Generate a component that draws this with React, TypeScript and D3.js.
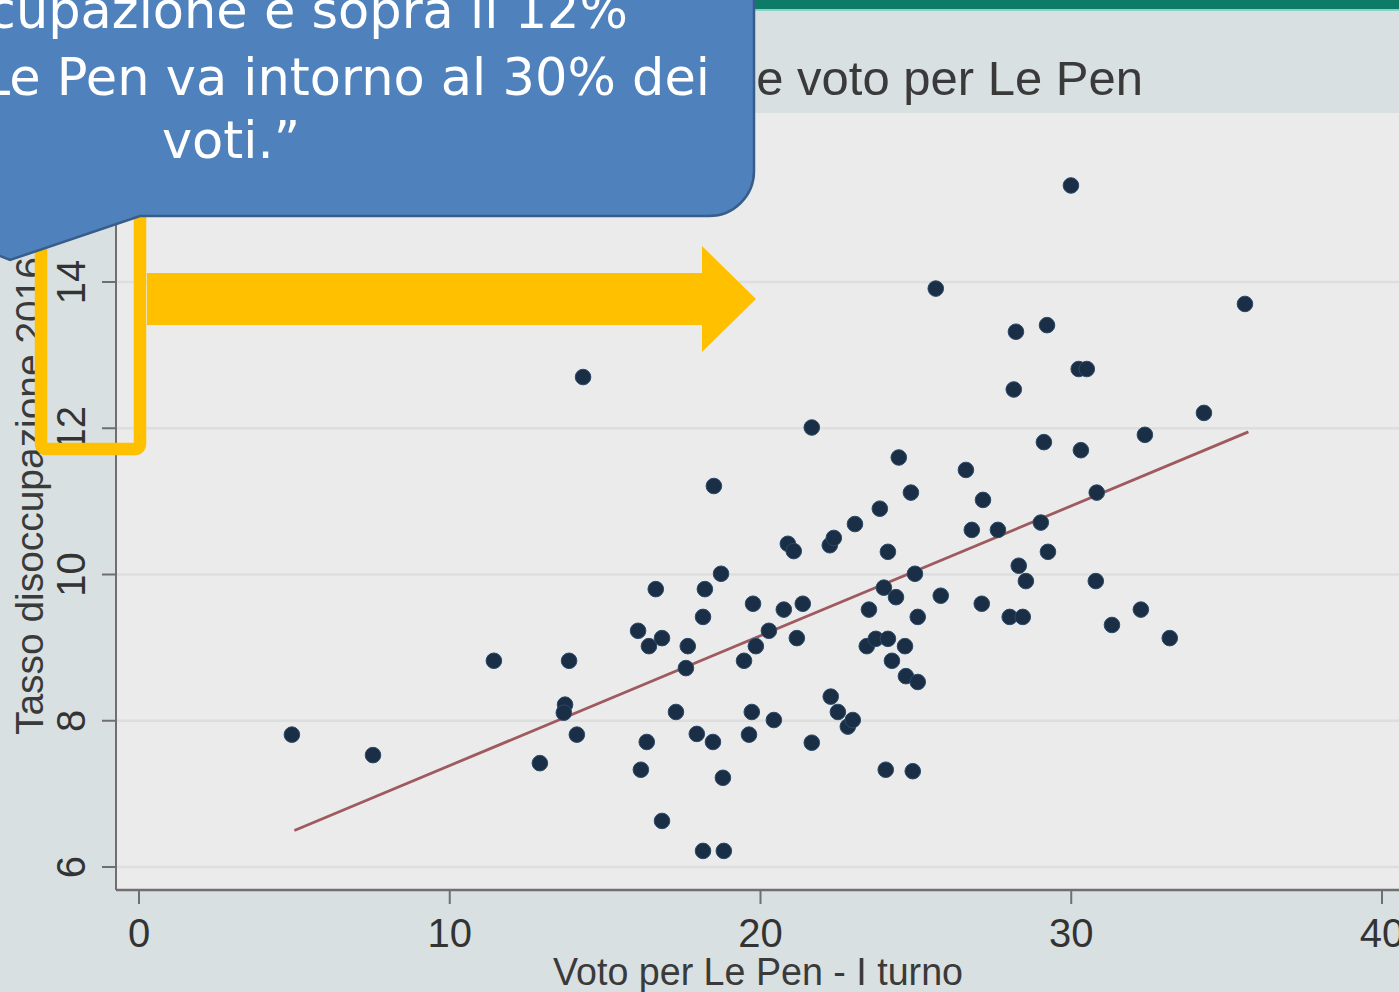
import React from "react";
import * as d3 from "d3";

// ---- data ----
const voteLePen: number[] = [
  4.92, 7.53, 11.42, 12.9, 13.71, 13.67, 13.84, 14.09, 14.29, 16.06,
  16.41, 16.63, 16.83, 16.15, 16.34, 16.83, 17.28, 17.6, 17.66, 17.95,
  18.15, 18.21, 18.47, 18.5, 18.73, 18.79, 18.15, 18.82, 19.47, 19.63,
  19.72, 19.76, 19.85, 20.27, 20.43, 20.75, 20.88, 21.07, 21.17, 21.36,
  21.65, 21.65, 22.23, 22.36, 22.26, 22.49, 22.81, 22.97, 23.04, 23.49,
  23.42, 23.71, 23.84, 23.97, 24.1, 24.1, 24.36, 24.23, 24.45, 24.03,
  24.68, 24.65, 24.9, 25.06, 24.97, 24.84, 25.06, 25.64, 25.8, 26.61,
  26.8, 27.16, 27.12, 27.64, 28.15, 28.22, 28.02, 28.44, 28.31, 28.54,
  29.02, 29.12, 29.22, 29.25, 29.99, 30.24, 30.5, 30.31, 30.82, 30.79,
  31.31, 32.24, 32.37, 33.17, 34.27, 35.59,
];
const unemployment2016: number[] = [
  7.81, 7.53, 8.82, 7.42, 8.22, 8.11, 8.82, 7.81, 12.7, 9.23,
  9.02, 9.8, 9.13, 7.33, 7.71, 6.63, 8.12, 8.72, 9.02, 7.82,
  9.42, 9.8, 7.71, 11.21, 10.01, 7.22, 6.22, 6.22, 8.82, 7.81,
  8.12, 9.6, 9.02, 9.23, 8.01, 9.52, 10.42, 10.32, 9.13, 9.6,
  7.7, 12.01, 10.4, 10.5, 8.33, 8.12, 7.92, 8.01, 10.69, 9.52,
  9.02, 9.12, 10.9, 9.82, 9.12, 10.31, 9.69, 8.82, 11.6, 7.33,
  8.61, 9.02, 7.31, 8.53, 10.01, 11.12, 9.42, 13.91, 9.71, 11.43,
  10.61, 11.02, 9.6, 10.61, 12.53, 13.32, 9.42, 9.42, 10.12, 9.91,
  10.71, 11.81, 13.41, 10.31, 15.32, 12.81, 12.81, 11.7, 11.12, 9.91,
  9.31, 9.52, 11.91, 9.13, 12.21, 13.7,
];
const fitX: number[] = [5, 35.7];
const fitY: number[] = [6.5, 11.95];
const xTicks: number[] = [0, 10, 20, 30, 40];
const yTicks: number[] = [6, 8, 10, 12, 14];

const chartTitle = "e voto per Le Pen";
const xTitle = "Voto per Le Pen - I turno";
const yTitle = "Tasso disoccupazione 2016";
const calloutLines = [
  "disoccupazione è sopra il 12%",
  "Le Pen va intorno al 30% dei",
  "voti.”",
];

export default function App() {
  const W = 1399;
  const H = 992;
  const x = d3.scaleLinear().domain([0, 40]).range([139, 1382]);
  const y = d3.scaleLinear().domain([6, 14]).range([867, 282]);
  const plotLeft = 116;
  const plotTop = 113;
  const plotBottom = 890;
  const axisFont = "'Liberation Sans', Arial, Helvetica, sans-serif";
  const calloutFont = "'DejaVu Sans', Verdana, sans-serif";
  const fitLine = d3
    .line<number>()
    .x((_, i) => x(fitX[i]))
    .y((_, i) => y(fitY[i]));

  const callout =
    "M -20 -20 H 754 V 171 A 45 45 0 0 1 709 216 H 140 L 10 260 L -20 248 Z";
  const arrow = "M 147 273 H 702 V 246 L 756 299 L 702 352 V 325 H 147 Z";

  return (
    <svg
      width={W}
      height={H}
      viewBox={`0 0 ${W} ${H}`}
      style={{ position: "absolute", left: 0, top: 0, display: "block" }}
    >
      {/* slide background */}
      <rect x={0} y={0} width={W} height={H} fill="#d9e0e1" />
      <rect x={0} y={0} width={W} height={9} fill="#0e7b69" />
      <rect x={0} y={9} width={W} height={2} fill="#86d3c6" />
      {/* plot region */}
      <rect x={plotLeft} y={plotTop} width={W - plotLeft} height={plotBottom - plotTop} fill="#ebebeb" />
      {/* title (left part hidden behind the callout) */}
      <text
        x={1143}
        y={95}
        textAnchor="end"
        fontFamily={axisFont}
        fontSize={49}
        fill="#3a3a3a"
      >
        {chartTitle}
      </text>
      {/* gridlines */}
      {yTicks.map((t) => (
        <line key={"g" + t} x1={plotLeft} x2={W} y1={y(t)} y2={y(t)} stroke="#dedede" strokeWidth={2.5} />
      ))}
      {/* y axis */}
      <line x1={plotLeft} x2={plotLeft} y1={plotTop} y2={plotBottom} stroke="#6f6f6f" strokeWidth={2} />
      {yTicks.map((t) => (
        <g key={"yt" + t}>
          <line x1={plotLeft - 14} x2={plotLeft} y1={y(t)} y2={y(t)} stroke="#6f6f6f" strokeWidth={2} />
          <text
            transform={`translate(85, ${y(t)}) rotate(-90)`}
            textAnchor="middle"
            fontFamily={axisFont}
            fontSize={40}
            fill="#333"
          >
            {t}
          </text>
        </g>
      ))}
      <text
        transform={`translate(43, 735) rotate(-90)`}
        textAnchor="start"
        fontFamily={axisFont}
        fontSize={38}
        fill="#3a3a3a"
        textLength={478}
        lengthAdjust="spacingAndGlyphs"
      >
        {yTitle}
      </text>
      {/* x axis */}
      <line x1={plotLeft} x2={W} y1={plotBottom} y2={plotBottom} stroke="#6f6f6f" strokeWidth={2.5} />
      {xTicks.map((t) => (
        <g key={"xt" + t}>
          <line x1={x(t)} x2={x(t)} y1={plotBottom} y2={plotBottom + 14} stroke="#6f6f6f" strokeWidth={2} />
          <text x={x(t)} y={947} textAnchor="middle" fontFamily={axisFont} fontSize={40} fill="#333">
            {t}
          </text>
        </g>
      ))}
      <text
        x={553}
        y={985}
        fontFamily={axisFont}
        fontSize={38}
        fill="#3a3a3a"
        textLength={410}
        lengthAdjust="spacingAndGlyphs"
      >
        {xTitle}
      </text>
      {/* fitted line */}
      <path d={fitLine(fitX) || ""} fill="none" stroke="#9e5a5e" strokeWidth={2.8} />
      {/* points */}
      {voteLePen.map((v, i) => (
        <circle
          key={"p" + i}
          cx={x(v)}
          cy={y(unemployment2016[i])}
          r={7.8}
          fill="#1a2e45"
          stroke="#2c4a68"
          strokeWidth={1}
        />
      ))}
      {/* yellow highlight box and arrow */}
      <rect x={41} y={150} width={99} height={299} rx={5} fill="none" stroke="#ffc000" strokeWidth={12.5} />
      <path d={arrow} fill="#ffc000" />
      {/* callout */}
      <path d={callout} fill="#4f81bd" stroke="#385d8a" strokeWidth={2.5} />
      <text x={628} y={28} textAnchor="end" fontFamily={calloutFont} fontSize={51} fill="#ffffff">
        {calloutLines[0]}
      </text>
      <text x={710} y={95} textAnchor="end" fontFamily={calloutFont} fontSize={51} fill="#ffffff">
        {calloutLines[1]}
      </text>
      <text x={231} y={158} textAnchor="middle" fontFamily={calloutFont} fontSize={51} fill="#ffffff">
        {calloutLines[2]}
      </text>
    </svg>
  );
}
